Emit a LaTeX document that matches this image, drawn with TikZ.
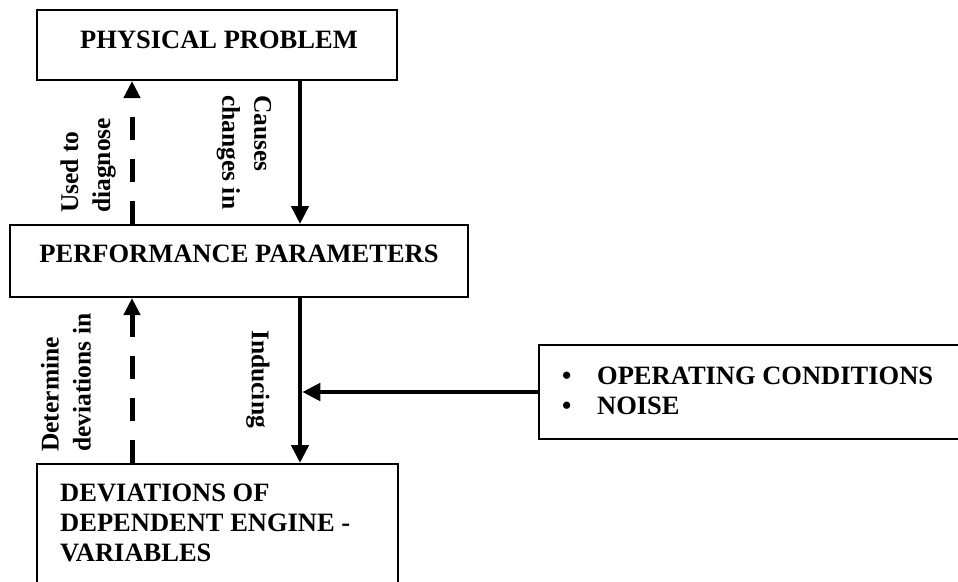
\documentclass[tikz,border=0pt]{standalone}
\usepackage{fontspec}
\setmainfont{Liberation Serif}
\usetikzlibrary{arrows.meta}
\begin{document}
\begin{tikzpicture}[x=1pt,y=-1pt,
  box/.style={draw,line width=2pt,rectangle,inner sep=0pt},
  boxtext/.style={inner sep=0pt,font=\bfseries\fontsize{26.5}{30}\selectfont},
  sidelabel/.style={inner sep=0pt,align=left,font=\bfseries\fontsize{25.5}{32}\selectfont},
  flow/.style={line width=4.5pt,-{Triangle[length=18pt,width=17pt]}},
  feedback/.style={line width=5pt,dash pattern=on 23pt off 19pt,-{Triangle[length=17pt,width=16pt]}}]
\useasboundingbox (0,0) rectangle (958,581);

% boxes
\node[box,minimum width=360pt,minimum height=70pt] (phys) at (217,45) {};
\node[box,minimum width=458pt,minimum height=72pt] (perf) at (239,261) {};
\node[box,minimum width=361pt,minimum height=136pt] (dev) at (217.5,532) {};
\node[box,minimum width=441pt,minimum height=94pt] (cond) at (759.5,392) {};

% box texts
\node[boxtext,anchor=base] (physT) at (219,48) {PHYSICAL PROBLEM};
\node[boxtext,anchor=base] (perfT) at (239,262) {PERFORMANCE PARAMETERS};
\node[boxtext,anchor=north west,align=left] (devT) at (60,484)
  {DEVIATIONS OF\\DEPENDENT ENGINE -\\VARIABLES};
\node[boxtext,anchor=north west,align=left] (condT) at (562,366.5)
  {\makebox[35pt][l]{\textbullet}OPERATING CONDITIONS\\
   \makebox[35pt][l]{\textbullet}NOISE};

% columns of the connectors
\coordinate (xl) at (132,0);
\coordinate (xr) at (300,0);

% connectors
\draw[flow] (phys.south -| xr) -- (perf.north -| xr);
\draw[flow] (perf.south -| xr) -- (dev.north -| xr);
\draw[flow,shorten >=2.25pt] (cond.west) -- (xr |- cond.west);
\draw[feedback] (perf.north -| xl) -- (phys.south -| xl);
\draw[feedback] (dev.north -| xl) -- (perf.south -| xl);

% connector labels
\node[sidelabel,rotate=90,anchor=west] (usedL) at (88,213) {Used to\\diagnose};
\node[sidelabel,rotate=-90,anchor=west] (causeL) at (244,95) {Causes\\changes in};
\node[sidelabel,rotate=90,anchor=west] (detL) at (66,452) {Determine\\deviations in};
\node[sidelabel,rotate=-90,anchor=west] (indL) at (258,330) {Inducing};
\end{tikzpicture}
\end{document}
